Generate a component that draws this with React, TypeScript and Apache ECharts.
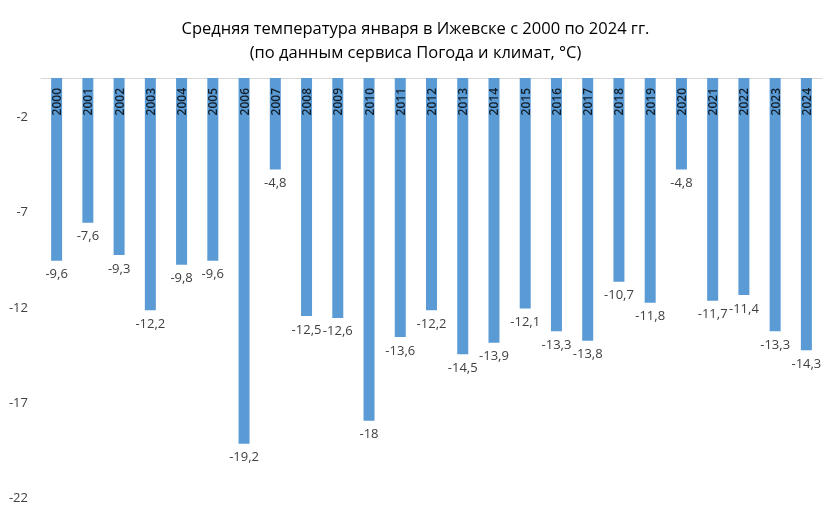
import React, { useEffect, useRef } from 'react';
import * as echarts from 'echarts';

const years: string[] = [
    '2000', '2001', '2002', '2003', '2004', '2005', '2006', '2007', '2008', '2009',
    '2010', '2011', '2012', '2013', '2014', '2015', '2016', '2017', '2018', '2019',
    '2020', '2021', '2022', '2023', '2024',
];

const temps: number[] = [
    -9.6, -7.6, -9.3, -12.2, -9.8, -9.6, -19.2, -4.8, -12.5, -12.6,
    -18, -13.6, -12.2, -14.5, -13.9, -12.1, -13.3, -13.8, -10.7, -11.8,
    -4.8, -11.7, -11.4, -13.3, -14.3,
];

const yMin = -22;
const yMax = 0;
const yStep = 5;

const App: React.FC = () => {
    const chartRef = useRef<HTMLDivElement>(null);

    useEffect(() => {
        const chartDom = chartRef.current!;
        const myChart = echarts.init(chartDom, null, { renderer: 'svg' });
        const font = '"Open Sans", "Noto Sans", sans-serif';
        const option: echarts.EChartsOption = {
            animation: false,
            title: {
                text: 'Средняя температура января в Ижевске с 2000 по 2024 гг.\n(по данным сервиса Погода и климат, °C)',
                left: 'center',
                top: 10,
                textStyle: {
                    fontFamily: font,
                    fontSize: 16.5,
                    fontWeight: 'normal',
                    color: '#000',
                    lineHeight: 24,
                },
            },
            grid: { left: 41, right: 9, top: 78, bottom: 23 },
            xAxis: {
                type: 'category',
                data: years,
                position: 'top',
                axisLine: { show: true, lineStyle: { color: '#d9d9d9' } },
                axisTick: { show: false },
                axisLabel: { show: false },
            },
            yAxis: {
                type: 'value',
                min: yMin,
                max: yMax,
                interval: yStep,
                axisLine: { show: false },
                axisTick: { show: false },
                splitLine: { show: false },
                axisLabel: {
                    color: '#404040',
                    fontFamily: font,
                    fontSize: 13,
                    margin: 13,
                    formatter: (v: number) => (v === yMax ? '' : String(v)),
                },
            },
            series: [
                {
                    type: 'bar',
                    data: temps,
                    barWidth: 11,
                    itemStyle: { color: '#5b9bd5' },
                    label: {
                        show: true,
                        position: 'bottom',
                        distance: 6,
                        color: '#404040',
                        fontFamily: font,
                        fontSize: 13,
                        formatter: (p: any) => String(p.value).replace('.', ','),
                    },
                },
                {
                    // year labels drawn inside the top of each bar
                    type: 'scatter',
                    data: years.map(() => 0),
                    symbolSize: 0,
                    silent: true,
                    z: 4,
                    label: {
                        show: true,
                        position: 'bottom',
                        distance: 10,
                        rotate: 90,
                        align: 'right',
                        verticalAlign: 'middle',
                        color: '#000',
                        fontWeight: 600,
                        fontFamily: font,
                        fontSize: 12,
                        formatter: (p: any) => years[p.dataIndex],
                    },
                },
            ],
        };

        myChart.setOption(option);

        const resizeObserver = new ResizeObserver(() => {
            myChart.resize();
        });
        resizeObserver.observe(chartDom);

        return () => {
            resizeObserver.disconnect();
            myChart.dispose();
        };
    }, []);

    return (
        <div
            ref={chartRef}
            style={{ position: 'fixed', left: 0, top: 0, width: 831, height: 520 }}
        />
    );
};

export default App;
